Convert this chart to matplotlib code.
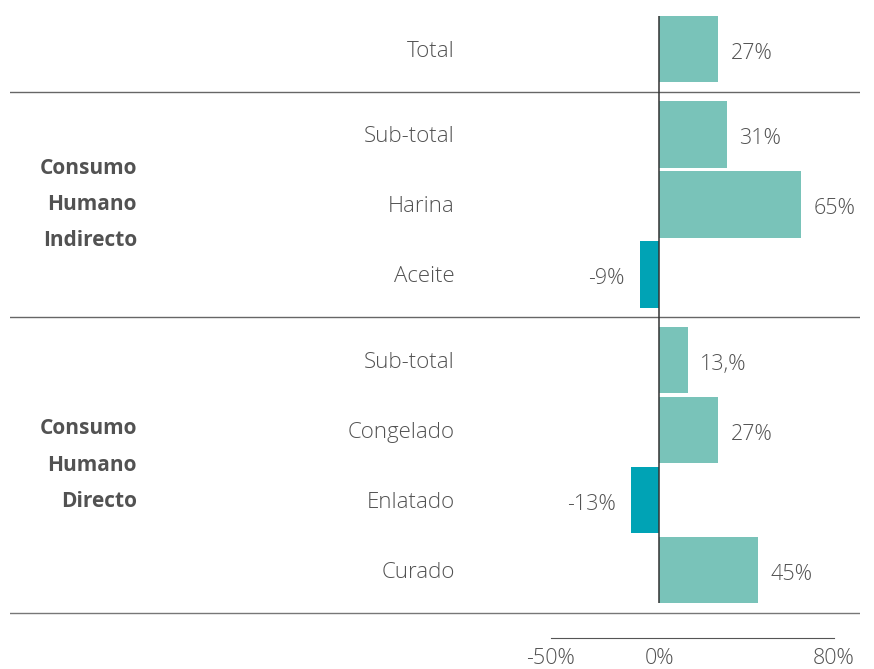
import matplotlib.pyplot as plt
from matplotlib import transforms

# data
categories = ["Total", "Sub-total", "Harina", "Aceite",
              "Sub-total", "Congelado", "Enlatado", "Curado"]
values = [27, 31, 65, -9, 13, 27, -13, 45]
value_labels = ["27%", "31%", "65%", "-9%", "13,%", "27%", "-13%", "45%"]
group_sizes = [1, 3, 4]
group_names = ["", "Consumo\nHumano\nIndirecto", "Consumo\nHumano\nDirecto"]
scale_ticks = [-50, 0, 80]
scale_labels = ["-50%", "0%", "80%"]

POS_COLOR = "#79c3b9"
NEG_COLOR = "#00a3b5"
TEXT = "#525252"
FONT = "Open Sans"

# row positions with a small gap between groups
group_gap = 0.22
positions = []
group_bounds = []
y = 0.0
for gi, n in enumerate(group_sizes):
    if gi > 0:
        y += group_gap
    start = y
    for _ in range(n):
        positions.append(y)
        y += 1
    group_bounds.append((start, y - 1))

fig = plt.figure(figsize=(8.74, 6.69), dpi=100)
W, H = 874, 669
ax = fig.add_axes([10 / W, (H - 638) / H, 850 / W, (638 - 15) / H])

bar_h = 0.95
colors = [POS_COLOR if v >= 0 else NEG_COLOR for v in values]
ax.barh(positions, values, height=bar_h, color=colors, zorder=2)

ax.set_xlim(-298, 92)
ax.set_ylim(positions[-1] + 0.97, positions[0] - 0.486)

# zero line
ax.vlines(0, positions[0] - bar_h / 2, positions[-1] + bar_h / 2,
          color="#333333", lw=1.1, zorder=3)

# separators between groups and bottom rule
for (s0, e0), (s1, e1) in zip(group_bounds[:-1], group_bounds[1:]):
    ax.axhline((e0 + s1) / 2, color="#666666", lw=1)
ax.axhline(positions[-1] + 0.614, color="#777777", lw=1)

# value labels
for p, v, lab in zip(positions, values, value_labels):
    off = 9 if v >= 0 else -11
    ax.annotate(lab, (v, p), xytext=(off, -3), textcoords="offset points",
                ha="left" if v >= 0 else "right", va="center",
                fontsize=15.5, color=TEXT, family=FONT, fontweight="light")

# category labels
tr = transforms.blended_transform_factory(ax.transAxes, ax.transData)
for p, c in zip(positions, categories):
    ax.annotate(c, ((455 - 10) / 850, p), xycoords=tr, xytext=(0, -1.5),
                textcoords="offset points", ha="right", va="center",
                fontsize=16, color=TEXT, family=FONT, fontweight="light")

# group labels
for (s, e), name in zip(group_bounds, group_names):
    if name:
        ax.text((137 - 10) / 850, (s + e) / 2, name, transform=tr,
                ha="right", va="center", fontsize=15, color=TEXT,
                family=FONT, fontweight="bold", linespacing=1.95)

# bottom scale
for side in ["top", "right", "left"]:
    ax.spines[side].set_visible(False)
ax.spines["bottom"].set_bounds(scale_ticks[0], scale_ticks[-1])
ax.spines["bottom"].set_color("#555555")
ax.set_xticks(scale_ticks)
ax.set_xticklabels(scale_labels, family=FONT, fontweight="light",
                   fontsize=15.5, color=TEXT)
ax.tick_params(axis="x", length=0, pad=7)
ax.set_yticks([])

fig.savefig("out.png", dpi=100)
